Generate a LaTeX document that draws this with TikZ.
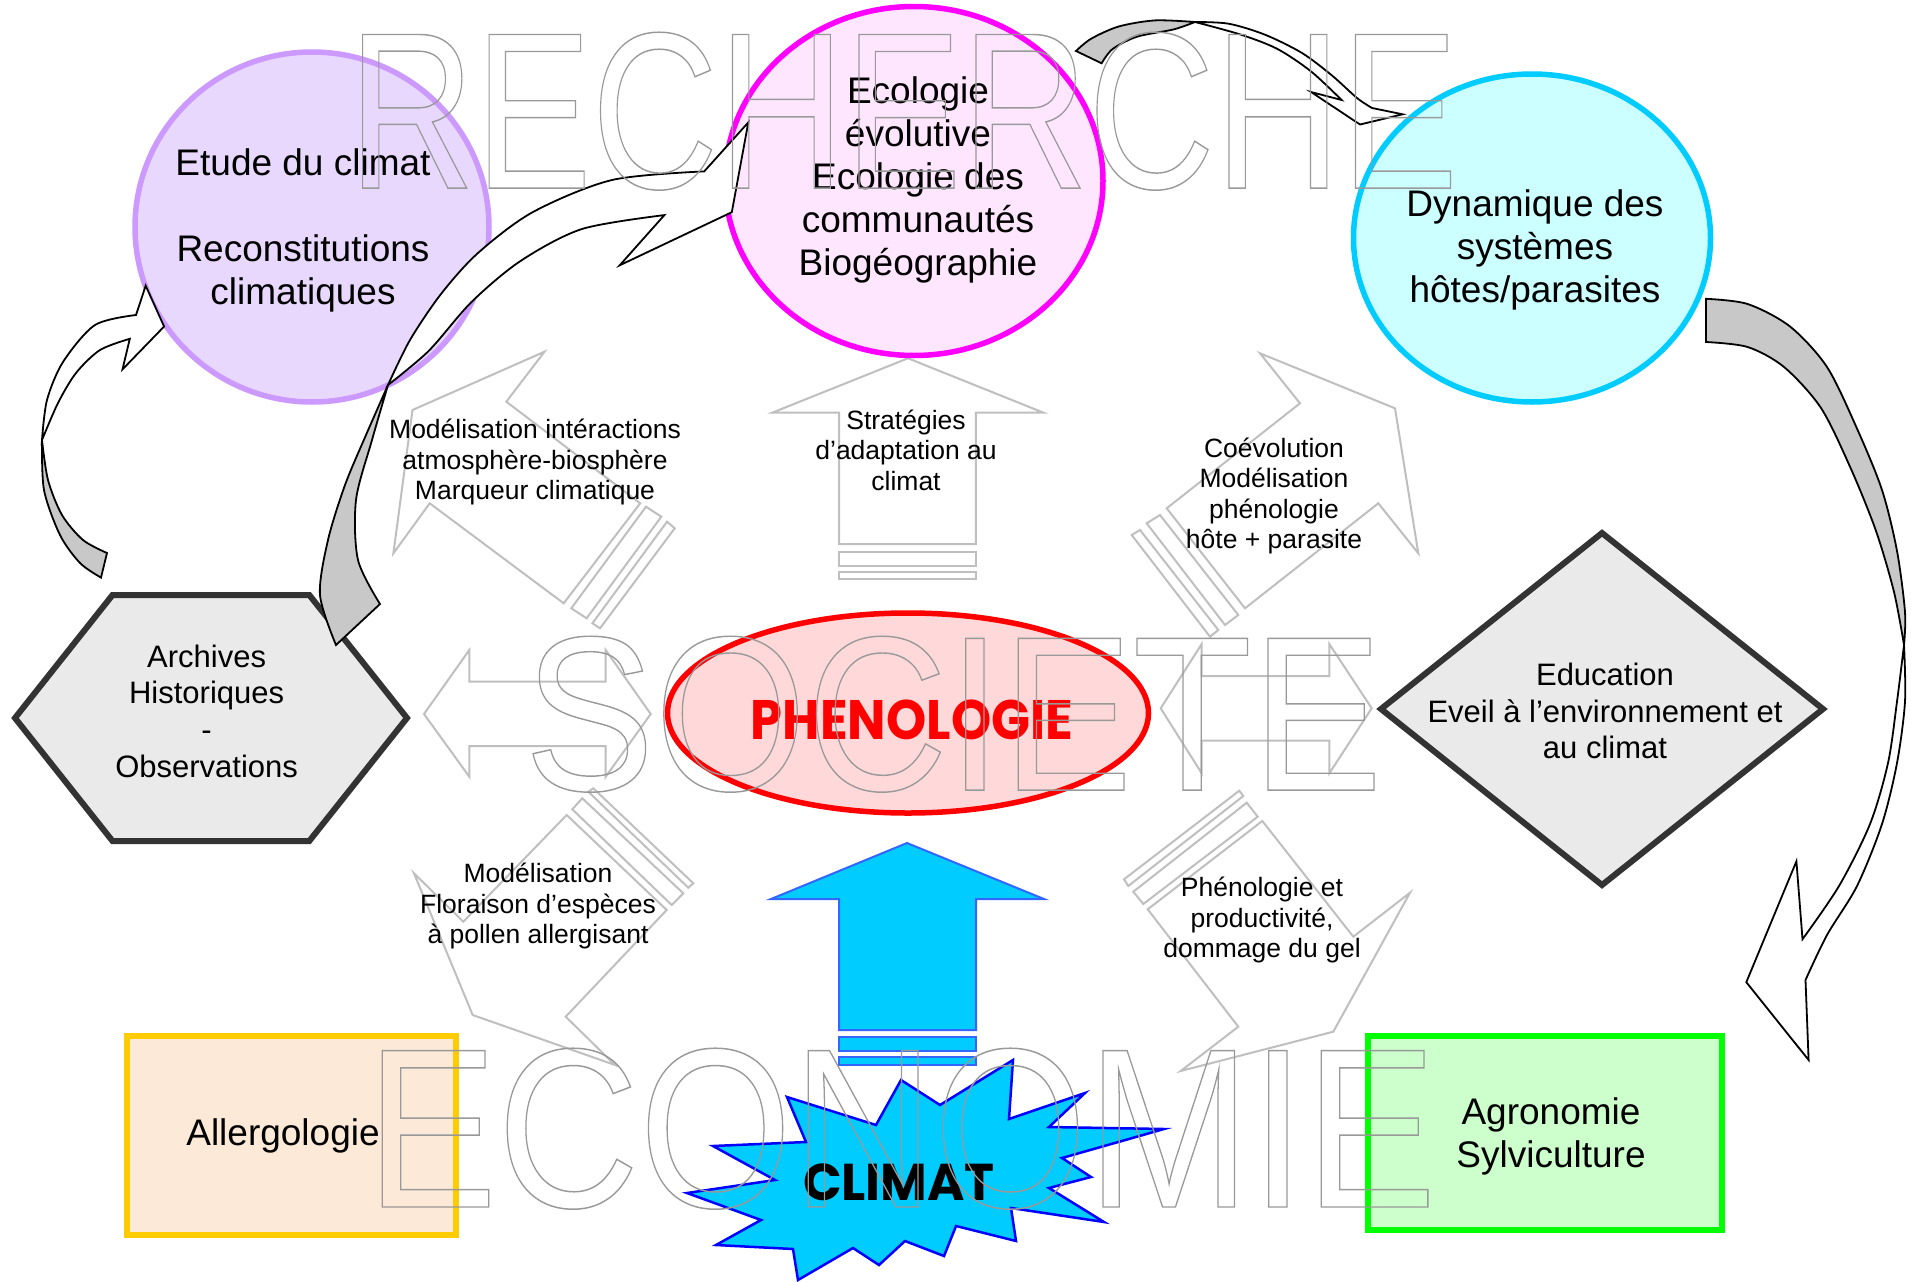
\documentclass[tikz,border=0pt]{standalone}
\usepackage{fontspec}
\setmainfont{Liberation Sans}
\newfontfamily\comicfont{Poppins}
\usepackage{graphicx}
\usetikzlibrary{shapes.geometric}
\definecolor{purpF}{HTML}{E9D8FD}
\definecolor{purpD}{HTML}{CC99FF}
\definecolor{magF}{HTML}{FFE6FF}
\definecolor{magD}{HTML}{FF00FF}
\definecolor{cyaF}{HTML}{CCFFFF}
\definecolor{cyaD}{HTML}{00CCFF}
\definecolor{redF}{HTML}{FFD9D9}
\definecolor{greyF}{HTML}{EAEAEA}
\definecolor{greyD}{HTML}{333333}
\definecolor{allF}{HTML}{FDE9D7}
\definecolor{allD}{HTML}{FFCC00}
\definecolor{agrF}{HTML}{CCFFCC}
\definecolor{agrD}{HTML}{00FF00}
\definecolor{skyF}{HTML}{00CCFF}
\definecolor{skyD}{HTML}{3366FF}
\definecolor{starD}{HTML}{0000FF}
\definecolor{arrG}{HTML}{BFBFBF}
\definecolor{backG}{HTML}{C8C8C8}
\definecolor{outlG}{HTML}{999999}
\newcommand\hollowword[1]{{\fontsize{200}{200}\selectfont\color{outlG}\special{pdf:literal direct q 1 Tr 1.3 w 0.6 G}#1\special{pdf:literal direct Q}}}
\newcommand\bigfont{\fontsize{37}{43}\selectfont}
\newcommand\midfont{\fontsize{31}{36.7}\selectfont}
\newcommand\smallfont{\fontsize{26.5}{30.6}\selectfont}
\begin{document}
\begin{tikzpicture}[x=1pt,y=-1pt,
  garr/.style={draw=arrG, line width=2pt, line join=miter},
  front/.style={draw=black, fill=white, line width=1.8pt, line join=miter},
  back/.style={draw=black, fill=backG, line width=1.8pt, line join=miter},
  txt/.style={align=center, inner sep=0pt, text=black},
  blob/.style={ellipse, inner sep=0pt, line width=5.5pt},
  poly/.style={draw=greyD, fill=greyF, line width=6pt, line join=miter},
  box/.style={line width=6.5pt},
  skyarrow/.style={draw=skyD, fill=skyF, line width=2pt, line join=miter},
  burst/.style={draw=starD, fill=skyF, line width=2.5pt, line join=miter}]
\useasboundingbox (0,0) rectangle (1917,1282);
\fill[white] (0,0) rectangle (1917,1282);

% ---------- grey hollow arrows ----------
\draw[garr] (908,358.3) -- (1043.5,412.7) -- (975.8,412.7) -- (975.8,544) -- (839.2,544) -- (839.2,412.7) -- (772.2,412.7) -- cycle;
\draw[garr] (839.2,551.7) rectangle (975.8,566);
\draw[garr] (839.2,572.3) rectangle (975.8,579.3);

\draw[garr] (412.5,410) -- (544.5,351.7) -- (506.3,401.7) -- (640.2,503.3) -- (563.7,603.3) -- (429.7,503.3) -- (393.4,553.3) -- cycle;
\draw[garr] (646,506.7) -- (661.3,516.7) -- (586.6,618.3) -- (571.3,608.3) -- cycle;
\draw[garr] (667,521.7) -- (674.7,528.3) -- (600,628.3) -- (592.4,623.3) -- cycle;

\draw[garr] (1395,408.3) -- (1260,353.3) -- (1300,403.3) -- (1166.7,508.3) -- (1245,608.3) -- (1378.3,503.3) -- (1418.3,553.3) -- cycle;
\draw[garr] (1146.7,523.3) -- (1160,515) -- (1238.3,615) -- (1225,625) -- cycle;
\draw[garr] (1131.7,535) -- (1140,530) -- (1218.3,630) -- (1210,636.7) -- cycle;

\draw[garr] (566.7,815) -- (463.3,921.7) -- (414,873.3) -- (472.7,1015) -- (615,1065) -- (565.7,1016.7) -- (666.7,910) -- cycle;
\draw[garr] (572.3,809.3) -- (582.3,798.3) -- (683.3,893.3) -- (671.7,905) -- cycle;
\draw[garr] (588.3,791.7) -- (593.3,788.3) -- (693.3,883.3) -- (688.3,887.7) -- cycle;

\draw[garr] (1262.3,821) -- (1353.3,936.7) -- (1410,892.7) -- (1333.3,1031.7) -- (1180.7,1071) -- (1238.3,1026.7) -- (1147.7,909.3) -- cycle;
\draw[garr] (1133.3,891.7) -- (1246.7,802.7) -- (1257.7,816.7) -- (1143.3,904) -- cycle;
\draw[garr] (1124,879.3) -- (1239.3,790.7) -- (1243.3,796) -- (1128.3,886) -- cycle;

\draw[garr] (424,714) -- (469.3,650) -- (469.3,681.7) -- (605.7,681.7) -- (605.7,650) -- (650.7,714) -- (605.7,776.7) -- (605.7,746) -- (469.3,746) -- (469.3,776.7) -- cycle;
\draw[garr] (1160.7,708.3) -- (1201.7,644) -- (1201.7,676) -- (1329.3,676) -- (1329.3,644) -- (1371.7,708.3) -- (1329.3,773.3) -- (1329.3,740.7) -- (1201.7,740.7) -- (1201.7,773.3) -- cycle;

% ---------- main shapes ----------
\node[blob, draw=purpD, fill=purpF, minimum width=354pt, minimum height=350pt] (etude) at (312,227) {};
\node[blob, draw=magD, fill=magF, minimum width=378pt, minimum height=349pt] (ecolo) at (914,181) {};
\node[blob, draw=cyaD, fill=cyaF, minimum width=357pt, minimum height=328pt] (dyna) at (1532,238) {};
\node[blob, draw=red, fill=redF, minimum width=481pt, minimum height=200pt] (phen) at (908,713) {};
\draw[poly] (15,718) -- (112.5,595) -- (309.3,595) -- (407,718) -- (309.3,841) -- (112.5,841) -- cycle;
\draw[poly] (1602,533) -- (1823,709) -- (1602,885) -- (1381,709) -- cycle;
\draw[box, draw=allD, fill=allF] (127,1036) rectangle (456,1235);
\draw[box, draw=agrD, fill=agrF] (1368,1036) rectangle (1722,1230);

% ---------- climate arrow and burst ----------
\draw[skyarrow] (907,843) -- (1044,899) -- (976,899) -- (976,1030) -- (839,1030) -- (839,899) -- (771,899) -- cycle;
\draw[skyarrow] (839,1037) rectangle (976,1051);
\draw[skyarrow] (839,1057) rectangle (976,1065);
\draw[burst] (787,1097) -- (876,1125) -- (901,1080) -- (940,1105) -- (1013,1060) -- (1009,1119) -- (1085,1093) -- (1049,1127) -- (1164,1129) -- (1062,1158) -- (1091,1177) -- (1049,1188) -- (1104,1222) -- (1011,1208) -- (1016,1241) -- (956,1226) -- (944,1256) -- (905,1241) -- (879,1265) -- (853,1248) -- (798,1280) -- (793,1249) -- (716,1245) -- (761,1220) -- (687,1193) -- (775,1180) -- (713,1146) -- (806,1142) -- cycle;

% ---------- curved arrows ----------
% A : archives -> etude
\draw[front] (136,315) -- (145.7,285.7) -- (164.1,326.5) -- (122.5,369.4) -- (129.8,338.8)
  -- plot[smooth] coordinates {(129.8,338.8) (100,350) (76,373) (58,403) (42,440)}
  -- plot[smooth] coordinates {(42,440) (47,400) (63,362) (95,325) (136,315)} -- cycle;
\draw[back] plot[smooth] coordinates {(42,440) (44,490) (60,535) (80,563) (101,577.6)} -- (107,553)
  -- plot[smooth] coordinates {(107,553) (83,540) (62,515) (48,480) (42,440)} -- cycle;
% B : archives -> ecologie
\draw[front] (704.2,171.4) -- (748.3,122.4) -- (731.8,212.2) -- (619.7,265.3) -- (664.4,215.1)
  -- plot[smooth] coordinates {(664.4,215.1) (582,229) (520.5,261) (471.5,302) (428.6,351) (388,385)}
  -- plot[smooth] coordinates {(388,385) (410,340) (441,294) (478,253) (533,212) (612,180) (704.2,171.4)} -- cycle;
\draw[back] plot[smooth] coordinates {(388,385) (366,435) (345,485) (328,540) (320,595) (336,645)} -- (380,604)
  -- plot[smooth] coordinates {(380,604) (358,560) (356,500) (372,440) (388,385)} -- cycle;
% C : ecologie -> dynamique
\draw[front] (1372,108) -- (1402.6,114.3) -- (1360,124.5) -- (1311,92) -- (1341.6,100)
  -- plot[smooth] coordinates {(1341.6,100) (1311,71.4) (1277.5,49) (1241,34.7) (1195,22)}
  -- plot[smooth] coordinates {(1195,22) (1228.6,23.7) (1265,34.7) (1302,53) (1332,75.5) (1357,98) (1372,108)} -- cycle;
\draw[back] plot[smooth] coordinates {(1195,22) (1155,20.4) (1118.7,26.5) (1091,38.8) (1076,51)} -- (1101.6,63.3)
  -- plot[smooth] coordinates {(1101.6,63.3) (1112.6,49) (1137,36.7) (1173.7,29.4) (1195,22)} -- cycle;
% D : dynamique -> agronomie
\draw[front] (1805.5,980) -- (1808.6,1060) -- (1746.3,982.2) -- (1796.4,861.3) -- (1802.5,939.2)
  -- plot[smooth] coordinates {(1802.5,939.2) (1839,886) (1870,824) (1888,763) (1897,701.5) (1904,645)}
  -- plot[smooth] coordinates {(1904,645) (1905,701.5) (1897,763) (1882,824) (1857,886) (1827,935) (1805.5,980)} -- cycle;
\draw[back] plot[smooth] coordinates {(1904,645) (1905,612) (1897,551) (1882,490) (1857,428.6) (1827,367) (1790,326.5) (1747.6,304) (1706,298.8)} -- (1706,342)
  -- plot[smooth] coordinates {(1706,342) (1747.6,347) (1784,367) (1821,408) (1851,469) (1876,531) (1894,592) (1904,645)} -- cycle;

% ---------- texts ----------
\node[txt, font=\bigfont] (tetude) at (303,230) {Etude du climat\\[43pt]Reconstitutions\\climatiques};
\node[txt, font=\bigfont] (tecolo) at (918,180) {Ecologie\\évolutive\\Ecologie des\\communautés\\Biogéographie};
\node[txt, font=\bigfont] (tdyna) at (1535,250) {Dynamique des\\systèmes\\hôtes/parasites};
\node[txt, font=\midfont] (tarch) at (206.6,711) {Archives\\Historiques\\-\\Observations};
\node[txt, font=\midfont] (tedu) at (1605,711) {Education\\Eveil à l’environnement et\\au climat};
\node[txt, font=\bigfont] (tall) at (283,1136) {Allergologie};
\node[txt, font=\bigfont] (tagr) at (1551,1136) {Agronomie\\Sylviculture};
\node[txt, font=\smallfont] (l1) at (535,462) {Modélisation intéractions\\atmosphère-biosphère\\Marqueur climatique};
\node[txt, font=\smallfont] (l2) at (906,450) {Stratégies\\d’adaptation au\\climat};
\node[txt, font=\smallfont] (l3) at (1274,496) {Coévolution\\Modélisation\\phénologie\\hôte + parasite};
\node[txt, font=\smallfont] (l4) at (538,906) {Modélisation\\Floraison d’espèces\\à pollen allergisant};
\node[txt, font=\smallfont] (l5) at (1262,920) {Phénologie et\\productivité,\\dommage du gel};
\node[inner sep=0pt, text=red] (tphen) at (912,720) {\resizebox*{322pt}{40pt}{\comicfont\bfseries PHENOLOGIE}};
\node[inner sep=0pt, text=black] (tclim) at (899,1182) {\resizebox*{192pt}{37pt}{\comicfont\bfseries CLIMAT}};

% ---------- hollow words ----------
\node[inner sep=0pt, anchor=north west] (wrech) at (348,32) {\resizebox*{1110pt}{158pt}{\hollowword{RECHERCHE}}};
\node[inner sep=0pt, anchor=north west] (wsoc) at (524,636) {\resizebox*{858pt}{156pt}{\hollowword{SOCIETE}}};
\node[inner sep=0pt, anchor=north west] (weco) at (366,1048) {\resizebox*{1070pt}{161pt}{\hollowword{ECONOMIE}}};
\end{tikzpicture}
\end{document}
